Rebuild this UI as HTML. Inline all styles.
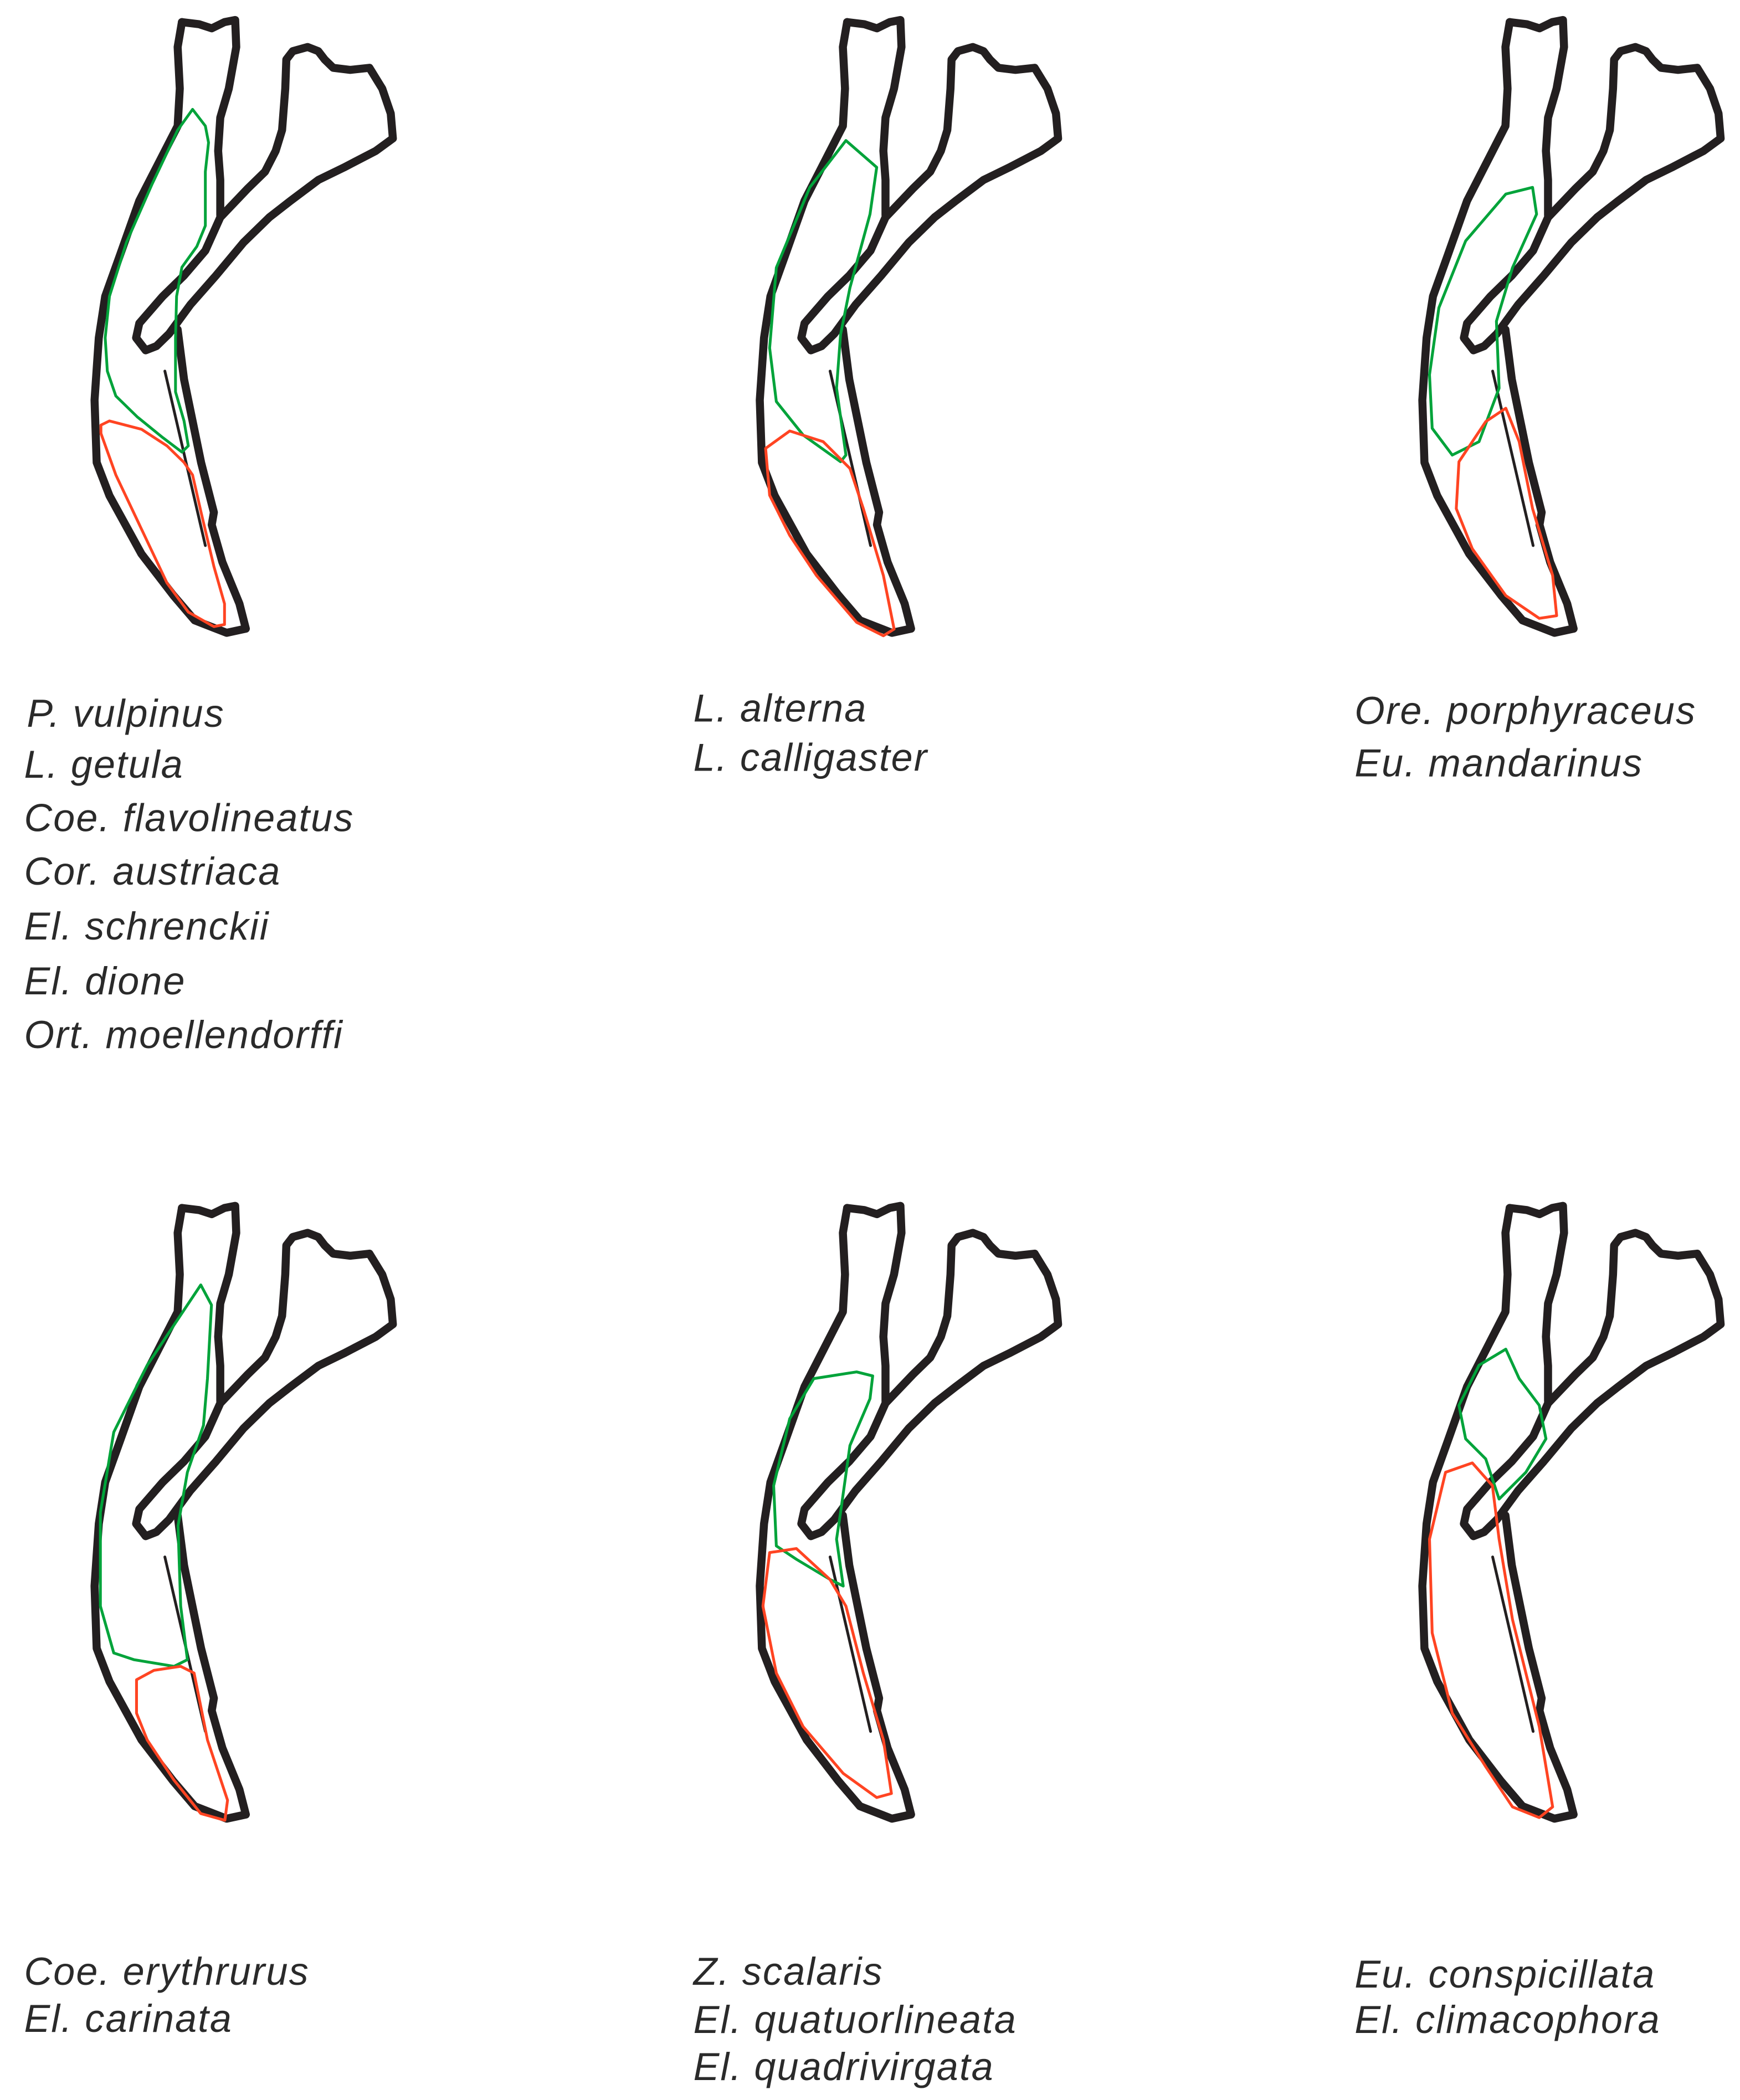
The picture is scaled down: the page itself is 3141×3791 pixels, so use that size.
<!DOCTYPE html>
<html><head><meta charset="utf-8"><style>
html,body{margin:0;padding:0;background:#fff;}
svg{display:block;}
text{font-family:"Liberation Sans",Arial,sans-serif;font-style:italic;font-size:29px;letter-spacing:0.9px;fill:#2a2a2a;}
</style></head><body>
<svg width="3141" height="3791" viewBox="0 0 3141 3791" xmlns="http://www.w3.org/2000/svg">
<defs>
<g id="bone" fill="none" stroke="#231f20" stroke-width="14.5" stroke-linejoin="round" stroke-linecap="round">
<path vector-effect="non-scaling-stroke" d="M490,40 L470,100 L480,200 L470,290 L380,380 L290,470 L200,600 L130,700 L100,800 L80,950 L90,1100 L150,1180 L300,1320 L450,1420 L550,1480 L700,1510 L790,1500 L760,1440 L680,1340 L630,1250 L640,1220 L580,1100 L540,1000 L500,900 L480,820 L470,780"/>
<path vector-effect="non-scaling-stroke" d="M490,40 L570,45 L630,55 L690,40 L740,35 L745,100 L710,200 L670,270 L660,350 L670,420 L670,505"/>
<path vector-effect="non-scaling-stroke" d="M290,765 L400,700 L500,650 L600,590 L670,510 L800,440 L880,400 L930,350 L960,300 L975,200 L980,130 L1010,110 L1080,100 L1130,110 L1160,130 L1200,150 L1280,155 L1370,150 L1430,200 L1470,260 L1480,320 L1400,350 L1250,390 L1130,420 L1000,470 L900,510 L780,570 L650,650 L530,720 L430,790 L370,820 L320,830 L275,800 Z"/>
<path vector-effect="non-scaling-stroke" d="M410,880 L600,1300" stroke-width="5"/>
</g>
</defs>
<g transform="scale(2.4162)">
<g transform="translate(57.9,4.1) scale(0.1592,0.3104)"><use href="#bone"/>
<g fill="none" stroke-width="5" stroke-linejoin="round">
<path vector-effect="non-scaling-stroke" stroke="#00a33a" d="M540,250 L600,290 L615,330 L600,400 L600,530 L560,580 L490,630 L465,700 L460,800 L460,930 L500,1000 L520,1060 L490,1075 L400,1040 L280,990 L180,940 L140,880 L130,800 L150,700 L230,570 L350,430 L470,300 Z"/>
<path vector-effect="non-scaling-stroke" stroke="#ff4422" d="M110,1010 L150,1000 L300,1020 L420,1060 L500,1100 L540,1130 L580,1220 L640,1350 L690,1440 L690,1490 L640,1495 L520,1460 L420,1390 L300,1260 L180,1130 L110,1030 Z"/>
</g></g>
<g transform="translate(554.9,4.1) scale(0.1592,0.3104)"><use href="#bone"/></g>
<g transform="translate(1049.9,4.1) scale(0.1592,0.3104)"><use href="#bone"/></g>
<g transform="translate(57.9,890.1) scale(0.1592,0.3104)"><use href="#bone"/></g>
<g transform="translate(554.9,890.1) scale(0.1592,0.3104)"><use href="#bone"/></g>
<g transform="translate(1049.9,890.1) scale(0.1592,0.3104)"><use href="#bone"/></g>

<g fill="none" stroke-width="2.1" stroke-linejoin="round">
<path stroke="#00a33a" d="M632,105 L655,125 L650,160 L635,215 L628,250 L625,290 L632,340 L628,345 L600,325 L580,300 L575,260 L580,200 L605,140 Z"/>
<path stroke="#ff4422" d="M572,335 L590,322 L615,330 L635,350 L645,380 L660,430 L668,470 L660,475 L640,465 L610,430 L590,400 L575,370 Z"/>
<path stroke="#00a33a" d="M1125,145 L1145,140 L1148,160 L1130,200 L1118,240 L1120,290 L1105,330 L1085,340 L1070,320 L1068,280 L1075,230 L1095,180 Z"/>
<path stroke="#ff4422" d="M1125,305 L1135,330 L1145,380 L1160,430 L1163,460 L1150,462 L1125,445 L1100,410 L1088,380 L1090,345 L1110,315 Z"/>
<path stroke="#00a33a" d="M150,960 L158,975 L155,1030 L152,1065 L140,1100 L133,1140 L135,1200 L140,1240 L130,1245 L100,1240 L85,1235 L75,1200 L75,1130 L85,1070 L110,1020 Z"/>
<path stroke="#ff4422" d="M102,1255 L115,1248 L135,1245 L145,1250 L155,1300 L170,1345 L168,1360 L150,1355 L130,1330 L110,1300 L102,1280 Z"/>
<path stroke="#00a33a" d="M608,1030 L640,1025 L652,1028 L650,1045 L635,1080 L628,1130 L625,1150 L630,1185 L620,1180 L595,1165 L580,1155 L578,1110 L590,1060 Z"/>
<path stroke="#ff4422" d="M575,1160 L595,1157 L620,1180 L632,1200 L645,1250 L660,1300 L666,1340 L655,1343 L630,1325 L600,1290 L580,1250 L570,1200 Z"/>
<path stroke="#00a33a" d="M1105,1020 L1125,1008 L1135,1030 L1150,1050 L1155,1075 L1140,1100 L1120,1120 L1110,1090 L1095,1075 L1090,1050 Z"/>
<path stroke="#ff4422" d="M1080,1100 L1100,1093 L1115,1110 L1120,1150 L1130,1210 L1150,1290 L1160,1350 L1150,1358 L1130,1350 L1110,1320 L1085,1280 L1070,1220 L1068,1150 Z"/>
</g>

<text x="20" y="543">P. vulpinus</text>
<text x="18" y="581">L. getula</text>
<text x="18" y="621">Coe. flavolineatus</text>
<text x="18" y="661">Cor. austriaca</text>
<text x="18" y="702">El. schrenckii</text>
<text x="18" y="743">El. dione</text>
<text x="18" y="783">Ort. moellendorffi</text>

<text x="518" y="539">L. alterna</text>
<text x="518" y="576">L. calligaster</text>

<text x="1012" y="541">Ore. porphyraceus</text>
<text x="1012" y="580">Eu. mandarinus</text>

<text x="18" y="1483">Coe. erythrurus</text>
<text x="18" y="1518">El. carinata</text>

<text x="518" y="1483">Z. scalaris</text>
<text x="518" y="1519">El. quatuorlineata</text>
<text x="518" y="1554">El. quadrivirgata</text>

<text x="1012" y="1485">Eu. conspicillata</text>
<text x="1012" y="1519">El. climacophora</text>
</g>
</svg>
</body></html>
